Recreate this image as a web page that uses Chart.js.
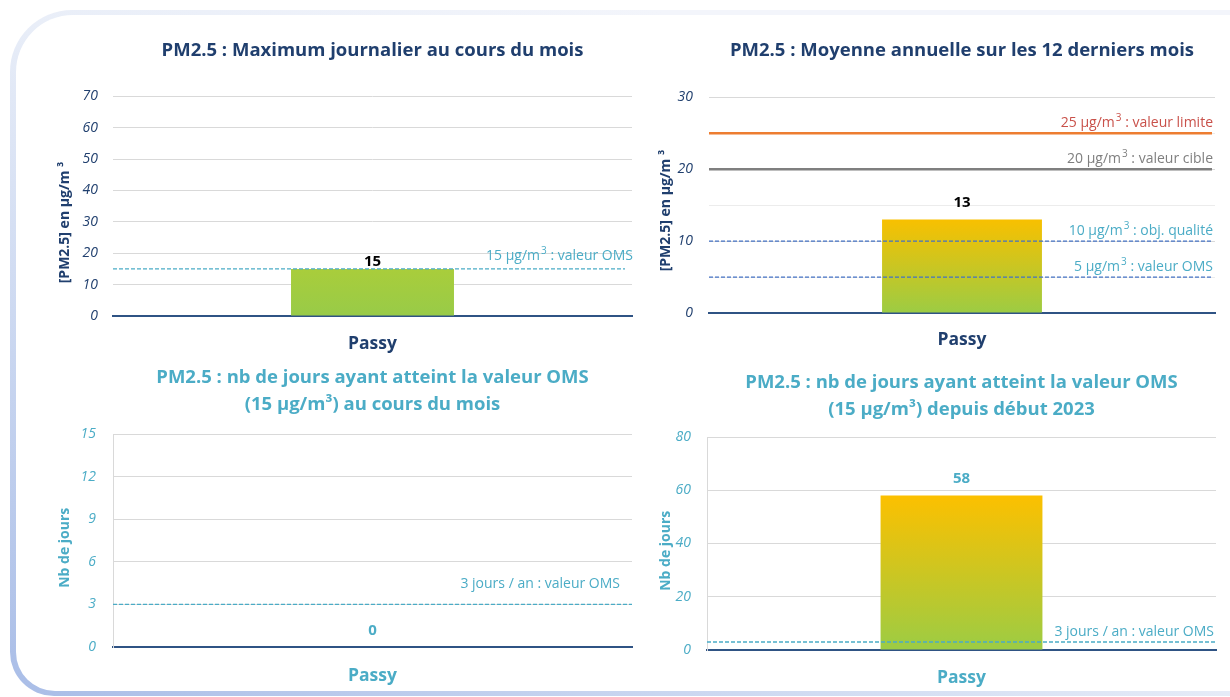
<!DOCTYPE html>
<html lang="fr">
<head>
<meta charset="utf-8">
<title>PM2.5 - Passy</title>
<script src="https://cdn.jsdelivr.net/npm/chart.js@4.4.1/dist/chart.umd.min.js"></script>
<style>
  html, body { margin: 0; padding: 0; background: #fff; }
  body { width: 1230px; height: 697px; position: relative; overflow: hidden; font-family: 'Open Sans', sans-serif; }
  .cadre { position: absolute; left: 10px; top: 10px; width: 1300px; height: 686px; border-radius: 62px 0 0 44px;
           background: linear-gradient(to top right, #a9bde7 0%, #c9d6f0 25%, #e9eef8 50%, #f3f5fb 75%); }
  .cadre-int { position: absolute; left: 6px; top: 5px; right: 0; bottom: 5px; border-radius: 57px 0 0 39px; background: #fff; }
  canvas { position: absolute; }
</style>
</head>
<body>
<div class="cadre"><div class="cadre-int"></div></div>
<canvas id="c-max" width="650" height="360" style="left:0;top:0"></canvas>
<canvas id="c-moy" width="615" height="360" style="left:615px;top:0"></canvas>
<canvas id="c-jmois" width="650" height="347" style="left:0;top:350px"></canvas>
<canvas id="c-jan" width="615" height="347" style="left:615px;top:350px"></canvas>
<script>
// données
const categories = ['Passy'];
const maxJournalier = [15];
const moyenneAnnuelle = [13];
const joursMois = [0];
const joursAnnee = [58];

const seuilsMaxValeurs = [15];
const seuilsMaxLibelles = ['15 µg/m³ : valeur OMS'];
const seuilsMoyValeurs = [25, 20, 10, 5];
const seuilsMoyLibelles = ['25 µg/m³ : valeur limite', '20 µg/m³ : valeur cible', '10 µg/m³ : obj. qualité', '5 µg/m³ : valeur OMS'];
const seuilsJoursValeurs = [3];
const seuilsJoursLibelles = ['3 jours / an : valeur OMS'];

const ticksMax = { max: 70, pas: 5, montre: 10 };
const ticksMoy = { max: 30, pas: 5, montre: 10 };
const ticksJMois = { max: 15, pas: 3, montre: 3 };
const ticksJAn = { max: 80, pas: 20, montre: 20 };

// couleurs
const MARINE = '#203f6e';
const TURQ = '#4bacc6';
const FONT = "'Open Sans', sans-serif";

function degrade(haut, bas){
  return function(c){
    const ch = c.chart, a = ch.chartArea;
    if (!a) return bas;
    const top = ch.scales.y.getPixelForValue(c.raw);
    if (Math.abs(a.bottom - top) < 1) return bas;
    const g = ch.ctx.createLinearGradient(0, a.bottom, 0, top);
    g.addColorStop(0, bas); g.addColorStop(1, haut);
    return g;
  };
}

// texte aligné à droite, avec le ³ en exposant
function texteExposant(ctx, txt, xDroite, y){
  const parts = txt.split('³');
  const fN = '14px ' + FONT, fE = '10px ' + FONT;
  ctx.font = fN;
  let w = 0;
  parts.forEach((p, i) => { ctx.font = fN; w += ctx.measureText(p).width; if (i < parts.length - 1) { ctx.font = fE; w += ctx.measureText('3').width + 1; } });
  let x = xDroite - w;
  ctx.textAlign = 'left'; ctx.textBaseline = 'middle';
  parts.forEach((p, i) => {
    ctx.font = fN; ctx.fillText(p, x, y); x += ctx.measureText(p).width;
    if (i < parts.length - 1) { ctx.font = fE; ctx.fillText('3', x + 1, y - 5); x += ctx.measureText('3').width + 1; }
  });
}

const pluginSeuils = {
  id: 'seuils',
  afterDatasetsDraw(chart, args, o){
    const { ctx, chartArea: a } = chart;
    const y = chart.scales.y;
    (o.valeurs || []).forEach((v, i) => {
      const st = o.styles[i];
      const py = y.getPixelForValue(v);
      ctx.save();
      ctx.strokeStyle = st.ligne; ctx.lineWidth = st.epaisseur; ctx.setLineDash(st.tirets || []);
      ctx.beginPath(); ctx.moveTo(a.left, py); ctx.lineTo(a.right + (st.fin || 0), py); ctx.stroke();
      ctx.setLineDash([]);
      ctx.fillStyle = st.texte;
      texteExposant(ctx, o.libelles[i], a.right + (st.dx || 0), py - st.dy);
      ctx.restore();
    });
  }
};

const pluginValeurs = {
  id: 'valeurs',
  afterDatasetsDraw(chart, args, o){
    const ctx = chart.ctx;
    const vals = chart.data.datasets[0].data;
    chart.getDatasetMeta(0).data.forEach((bar, i) => {
      ctx.save();
      ctx.fillStyle = o.couleur; ctx.font = 'bold 15px ' + FONT;
      ctx.textAlign = 'center'; ctx.textBaseline = 'middle';
      ctx.fillText(String(vals[i]), bar.x, bar.y - o.decalage);
      ctx.restore();
    });
  }
};

function graphique(id, o){
  return new Chart(document.getElementById(id), {
    type: 'bar',
    data: { labels: categories, datasets: [{ data: o.donnees, backgroundColor: o.fond, barPercentage: o.largeur, categoryPercentage: 1 }] },
    options: {
      responsive: false, animation: false, devicePixelRatio: 1,
      layout: { padding: { left: 0, right: o.droite, top: 0, bottom: 0 } },
      plugins: {
        legend: { display: false }, tooltip: { enabled: false },
        title: { display: true, text: o.titre, color: o.couleurTitre, fullSize: false,
                 font: { family: FONT, size: 18.5, weight: 'bold', lineHeight: o.interligne || 1.2 }, padding: o.padTitre },
        seuils: o.seuils,
        valeurs: o.valeurs
      },
      scales: {
        x: {
          z: 1,
          grid: { display: false },
          border: { color: '#2f5384', width: 2 },
          ticks: { color: o.couleurAxe, font: { family: FONT, size: 17.5, weight: 'bold' }, padding: o.padX },
          afterFit: s => { s.height = o.hautX; }
        },
        y: {
          min: 0, max: o.ticks.max,
          ticks: { stepSize: o.ticks.pas, color: o.couleurTicks, padding: o.padTicks,
                   font: { family: FONT, size: 14, style: 'italic' },
                   callback: v => (v % o.ticks.montre === 0 ? v : '') },
          grid: { drawTicks: false, color: c => (c.tick && c.tick.value % o.ticks.montre === 0 ? '#d9d9d9' : '#ececec') },
          border: { display: o.bordY, color: '#d9d9d9' },
          title: { display: true, text: o.titreY, color: o.couleurAxe,
                   font: { family: FONT, size: 14, weight: 'bold' }, padding: { top: o.padTitreY, bottom: 0 } },
          afterFit: s => { s.width = o.largeurY; }
        }
      }
    },
    plugins: [pluginSeuils, pluginValeurs]
  });
}

const ESP = n => '\u00a0'.repeat(n);

graphique('c-max', {
  donnees: maxJournalier, fond: degrade('#a9cd3b', '#98cb48'), largeur: 0.314, droite: 18,
  titre: 'PM2.5 : Maximum journalier au cours du mois', couleurTitre: MARINE, padTitre: { top: 40, bottom: 34 },
  couleurAxe: MARINE, couleurTicks: MARINE, padX: 10, hautX: 44, padTicks: 15, ticks: ticksMax, bordY: false,
  titreY: '[PM2.5] en µg/m ³' + ESP(9), padTitreY: 57, largeurY: 113,
  seuils: { valeurs: seuilsMaxValeurs, libelles: seuilsMaxLibelles,
            styles: [{ ligne: TURQ, epaisseur: 1.3, tirets: [4, 2], texte: TURQ, dy: 13, fin: -7, dx: 1 }] },
  valeurs: { couleur: '#000', decalage: 7 }
});

graphique('c-moy', {
  donnees: moyenneAnnuelle, fond: degrade('#f8c000', '#9ccc44'), largeur: 0.316, droite: 15,
  titre: 'PM2.5 : Moyenne annuelle sur les 12 derniers mois', couleurTitre: MARINE, padTitre: { top: 40, bottom: 35 },
  couleurAxe: MARINE, couleurTicks: MARINE, padX: 9, hautX: 47, padTicks: 16, ticks: ticksMoy, bordY: false,
  titreY: '[PM2.5] en µg/m ³' + ESP(3), padTitreY: 43, largeurY: 94,
  seuils: { valeurs: seuilsMoyValeurs, libelles: seuilsMoyLibelles,
            styles: [
              { ligne: '#ed7d31', epaisseur: 2.5, texte: '#c9514a', dy: 10, fin: -3, dx: -2 },
              { ligne: '#7f7f7f', epaisseur: 2.5, texte: '#7f7f7f', dy: 10, fin: -3, dx: -2 },
              { ligne: '#4472c4', epaisseur: 1.3, tirets: [4, 2], texte: TURQ, dy: 10, fin: -3, dx: -2 },
              { ligne: '#4472c4', epaisseur: 1.3, tirets: [4, 2], texte: TURQ, dy: 10, fin: -3, dx: -2 }
            ] },
  valeurs: { couleur: '#000', decalage: 17 }
});

graphique('c-jmois', {
  donnees: joursMois, fond: '#9ccc44', largeur: 0.314, droite: 18,
  titre: ['PM2.5 : nb de jours ayant atteint la valeur OMS', '(15 µg/m³) au cours du mois'], couleurTitre: TURQ,
  interligne: 1.46, padTitre: { top: 14.5, bottom: 15.5 },
  couleurAxe: TURQ, couleurTicks: TURQ, padX: 11, hautX: 50, padTicks: 17, ticks: ticksJMois, bordY: true,
  titreY: 'Nb de jours' + ESP(4), padTitreY: 57, largeurY: 113,
  seuils: { valeurs: seuilsJoursValeurs, libelles: seuilsJoursLibelles,
            styles: [{ ligne: TURQ, epaisseur: 1.3, tirets: [4, 2], texte: TURQ, dy: 20, fin: 0, dx: -12 }] },
  valeurs: { couleur: TURQ, decalage: 16 }
});

graphique('c-jan', {
  donnees: joursAnnee, fond: degrade('#fcc000', '#9ccc44'), largeur: 0.318, droite: 14,
  titre: ['PM2.5 : nb de jours ayant atteint la valeur OMS', '(15 µg/m³) depuis début 2023'], couleurTitre: TURQ,
  interligne: 1.46, padTitre: { top: 19.5, bottom: 13.5 },
  couleurAxe: TURQ, couleurTicks: TURQ, padX: 10, hautX: 47, padTicks: 16, ticks: ticksJAn, bordY: true,
  titreY: 'Nb de jours' + ESP(4), padTitreY: 43, largeurY: 92,
  seuils: { valeurs: seuilsJoursValeurs, libelles: seuilsJoursLibelles,
            styles: [{ ligne: TURQ, epaisseur: 1.3, tirets: [4, 2], texte: TURQ, dy: 10, fin: 0, dx: -2 }] },
  valeurs: { couleur: TURQ, decalage: 17 }
});
</script>
</body>
</html>
